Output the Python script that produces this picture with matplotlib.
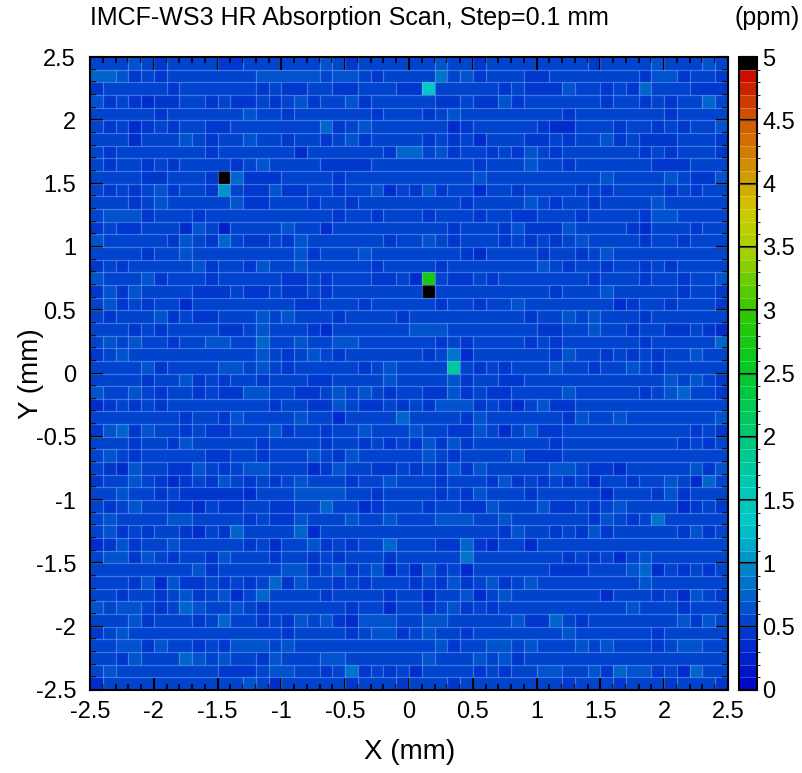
import numpy as np
import matplotlib
matplotlib.use("Agg")
import matplotlib.pyplot as plt
from matplotlib.colors import ListedColormap, BoundaryNorm, LinearSegmentedColormap
from matplotlib.collections import LineCollection
from matplotlib.ticker import MultipleLocator, FormatStrFormatter

plt.rcParams['font.family'] = ['Liberation Sans', 'DejaVu Sans']

# ---- data -------------------------------------------------------------
# colour band (tenths of ppm) of each 0.1 mm cell, top row (y=2.45) first,
# columns from x=-2.45 to x=2.45
band_rows = [
    "5556545555445555556545555" "5565545555555545555655565",
    "7764545555555666665665455" "5585645554455555554664554",
    "4555554555555454455445554" "4555555454446554547555444",
    "6454344554544545645564555" "5544544645555554554545575",
    "5555545555556554555555455" "5456555555554555555545555",
    "5453454554455555557456555" "5553455555433555455454556",
    "5553555654556554554564555" "5454535554454556454445554",
    "5455555554555555355555547" "7564554546545555554545554",
    "5455454555545655554444555" "5555545556554555555444555",
    "5555445554574445555455555" "5555565555555556555565446",
    "5454564554554464455455635" "4645535545555454555545455",
    "5554565555564455545545555" "5555455556545545555655555",
    "5666455545555555555455455" "5455545544555455554665555",
    "4544555365255556553555555" "5554555464446555543555455",
    "6555554654754454655555545" "5654555454545655554554555",
    "5555455655555555645556555" "5555435555455456555555555",
    "4545555564554655655555455" "5545555555654554554545555",
    "6555645554555554454555445" "3554454555555545554554556",
    "4646555544454454454555555" "5555555555545556555554554",
    "5645455355555555445554555" "5545545565555555345545554",
    "5455564544555656555455554" "5555555554556565554555555",
    "5554545555445655543555555" "6665555555445565545544543",
    "5656554556655755655665555" "5545455554545555554555557",
    "4565555555555654565455555" "5458355555546554545455655",
    "5555645555665654555554565" "5555545455565545565455555",
    "5555455645455455544555565" "5556455445555555555565654",
    "6556545545446655445656545" "5446454455556555554567554",
    "3454545555555545544654454" "5466645435644555555555555",
    "5555555455465555655355557" "5555465555554655655555556",
    "4674655454455564554556555" "6554465356445555555555454",
    "5554554655555455554554545" "4646455555545555555554545",
    "5654555554455455565465555" "5654555564445555555555555",
    "5436554465456655534655445" "4546465555566544355555646",
    "4556543454654545655545565" "5545554645454535545565375",
    "5565545444443555666655455" "5545465554555553555464555",
    "5456554435445544557553455" "5455446555644545655553454",
    "5655556655554544655565565" "5566655655555546545855555",
    "5645455435475555735555555" "5555555465545464555554645",
    "3464556555554535564545575" "5544743553555555555555555",
    "5664654554655545545455545" "5555855555554545356555555",
    "5555555564555556645645635" "3645355555544455567354545",
    "5554636445454574655454555" "4546456456555555556555555",
    "5545545645635755554555545" "5355635655555553555453654",
    "6566545765565455555545535" "5456454555555555565554555",
    "5556455545755454656436665" "5665555564475455555556465",
    "4565555555555554555545664" "5655455555556555555455555",
    "5566465545466656555555555" "5564556656555656555456655",
    "5546555765655465556655555" "5655565645555555555555555",
    "5655555555444566554584545" "3555545455665564766453755",
    "3555555555556535555545554" "5554555555554555455545554",
]

# isolated cells that stand out (x centre mm, y centre mm, ppm)
spot_x = [-1.45, -1.45, 0.15, 0.15, 0.15, 0.35]
spot_y = [1.55, 1.45, 2.25, 0.75, 0.65, 0.05]
spot_v = [4.95, 1.05, 1.35, 2.75, 4.95, 1.75]

x_ticks = [-2.5, -2, -1.5, -1, -0.5, 0, 0.5, 1, 1.5, 2, 2.5]
cbar_ticks = [0, 0.5, 1, 1.5, 2, 2.5, 3, 3.5, 4, 4.5, 5]

title = "IMCF-WS3 HR Absorption Scan, Step=0.1 mm"
unit = "(ppm)"
xlabel = "X (mm)"
ylabel = "Y (mm)"

# ---- build grid ---------------------------------------------------------
n = len(band_rows)
bands = np.array([[int(c) for c in r] for r in band_rows], dtype=float)
Z = (bands[::-1] + 0.5) * 0.1          # row 0 -> bottom (y=-2.45)
edges = np.linspace(-2.5, 2.5, n + 1)
for sx, sy, sv in zip(spot_x, spot_y, spot_v):
    ix = np.searchsorted(edges, sx) - 1
    iy = np.searchsorted(edges, sy) - 1
    Z[iy, ix] = sv

# ---- palette (50 bands, top band black) ---------------------------------
anchors = [
    (0.0, (0, 5, 200)), (0.5, (0, 62, 205)), (1.0, (0, 140, 200)),
    (1.3, (0, 200, 200)), (1.6, (0, 200, 180)), (2.0, (0, 200, 120)),
    (2.5, (0, 200, 40)), (3.0, (50, 200, 0)), (3.5, (170, 210, 0)),
    (3.8, (210, 200, 0)), (4.0, (210, 165, 0)), (4.5, (210, 90, 0)),
    (4.9, (200, 5, 0)),
]
base = LinearSegmentedColormap.from_list(
    "pal", [(a / 4.9, tuple(c / 255 for c in col)) for a, col in anchors])
levels = np.linspace(0, 5, 51)
cols = [base(min(((levels[i] + levels[i + 1]) / 2) / 4.9, 1.0)) for i in range(49)]
cols.append((0, 0, 0, 1))
cmap = ListedColormap(cols)
norm = BoundaryNorm(levels, cmap.N)

# ---- figure -------------------------------------------------------------
W, H = 802, 773
fig = plt.figure(figsize=(W / 100, H / 100), dpi=100)
L, R, T, B = 90, 728, 57, 690
ax = fig.add_axes([L / W, 1 - B / H, (R - L) / W, (B - T) / H])
mesh = ax.pcolormesh(edges, edges, Z, cmap=cmap, norm=norm, shading='flat')

# light seams between rows, and between horizontally neighbouring cells of
# different band
bidx = np.digitize(Z, levels)
segs = []
for j in range(1, n):
    segs.append([(edges[0], edges[j]), (edges[-1], edges[j])])
for j in range(n):
    for i in range(1, n):
        if bidx[j, i] != bidx[j, i - 1]:
            segs.append([(edges[i], edges[j]), (edges[i], edges[j + 1])])
ax.add_collection(LineCollection(segs, colors=(0.55, 0.7, 1.0, 0.45), linewidths=0.9))

ax.set_xlim(-2.5, 2.5)
ax.set_ylim(-2.5, 2.5)
ax.set_xticks(x_ticks)
ax.set_yticks(x_ticks)
ax.xaxis.set_major_formatter(FormatStrFormatter('%g'))
ax.yaxis.set_major_formatter(FormatStrFormatter('%g'))
ax.xaxis.set_minor_locator(MultipleLocator(0.1))
ax.yaxis.set_minor_locator(MultipleLocator(0.1))
ax.tick_params(which='both', direction='in', top=True, right=True, color='black')
ax.tick_params(which='major', length=9, width=1.5, labelsize=17)
ax.tick_params(which='minor', length=4.5, width=1.2)
ax.tick_params(axis='x', which='major', pad=8)
ax.tick_params(axis='y', which='major', pad=10)
for s in ax.spines.values():
    s.set_linewidth(1.5)
ax.set_xlabel(xlabel, fontsize=20)
ax.set_ylabel(ylabel, fontsize=20)
ax.xaxis.set_label_coords((410 - L) / (R - L), -(739 - B) / (B - T))
ax.yaxis.set_label_coords((44 - L) / (R - L), 0.5)

# colorbar
cax = fig.add_axes([739 / W, 1 - B / H, 18 / W, (B - T) / H])
cb = fig.colorbar(mesh, cax=cax, ticks=cbar_ticks)
cb.ax.yaxis.set_major_formatter(FormatStrFormatter('%g'))
cax.tick_params(direction='in', length=13, width=1.5, labelsize=17, pad=4,
                color='black')
cax.hlines(levels[1:-1], 0, 1, transform=cax.get_yaxis_transform(),
           colors=(1, 1, 1, 0.25), linewidths=0.7)
cb.outline.set_linewidth(1.5)

fig.text(L / W, 1 - 18 / H, title, fontsize=18, ha='left', va='center')
fig.text(800 / W, 1 - 18 / H, unit, fontsize=18, ha='right', va='center')

fig.savefig("out.png", dpi=100)
